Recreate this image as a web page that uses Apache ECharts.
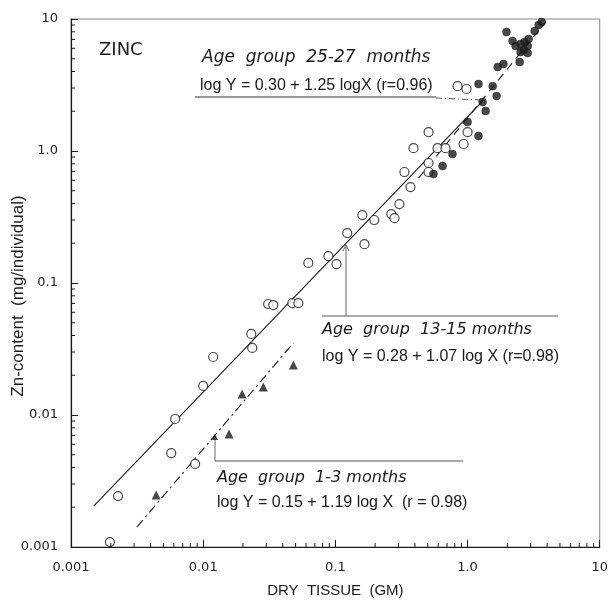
<!DOCTYPE html>
<html>
<head>
<meta charset="utf-8">
<script src="https://cdn.jsdelivr.net/npm/echarts@6/dist/echarts.min.js"></script>
<style>html,body{margin:0;padding:0;background:#fff}#c{width:611px;height:603px}</style>
</head>
<body>
<div id="c"></div>
<script>
// ---- data ----
// Age group 13-15 months (open circles)
const openX = [0.00197,0.00227,0.00573,0.00614,0.00869,0.0100,0.0119,0.0231,0.0235,0.0310,0.0339,0.0472,0.0525,0.0624,0.0885,0.102,0.123,0.166,0.160,0.197,0.265,0.280,0.305,0.333,0.370,0.390,0.507,0.507,0.507,0.593,0.681,0.933,1.00,0.840,0.982];
const openY = [0.00109,0.00243,0.00515,0.00933,0.00426,0.0166,0.0275,0.0411,0.0322,0.0693,0.0680,0.0705,0.0705,0.142,0.160,0.139,0.239,0.197,0.327,0.300,0.333,0.310,0.396,0.693,0.533,1.05,1.39,0.811,0.693,1.05,1.05,1.13,1.39,3.10,2.95];
// Age group 25-27 months (filled circles)
const filledX = [0.552,0.647,0.769,1.00,1.21,1.37,1.30,1.21,1.55,1.66,1.69,1.87,2.48,1.97,2.19,2.31,2.52,2.66,2.85,2.52,2.85,2.70,2.90,3.22,3.45,3.64];
const filledY = [0.670,0.769,0.948,1.66,1.30,2.01,2.35,3.22,3.10,2.61,4.33,4.56,4.72,7.97,6.81,6.24,6.47,5.82,6.24,5.62,5.52,6.70,7.05,8.11,9.01,9.48];
// Age group 1-3 months (filled triangles)
const triX = [0.00441,0.0157,0.0197,0.0285,0.0481];
const triY = [0.00248,0.00718,0.0144,0.0163,0.0239];
// regression lines (end points as drawn)
const fit1315X = [0.00149, 1.30];
const fit1315Y = [0.00205, 2.39];
const fit2527X = [0.426, 3.90];
const fit2527Y = [0.624, 9.50];
const fit13X = [0.00316, 0.0481];
const fit13Y = [0.00142, 0.0351];
// ticks
const majorTicks = [0.001, 0.01, 0.1, 1, 10];
const tickLabels = ['0.001', '0.01', '0.1', '1.0', '10'];
const minorMultipliers = [2,3,4,5,6,7,8,9];
// texts
const titleText = 'ZINC';
const xName = 'DRY  TISSUE  (GM)';
const yName = 'Zn-content  (mg/individual)';
const ann2527 = ['Age  group  25-27  months', 'log Y = 0.30 + 1.25 logX (r=0.96)'];
const ann1315 = ['Age  group  13-15 months', 'log Y = 0.28 + 1.07 log X (r=0.98)'];
const ann13 = ['Age  group  1-3 months', 'log Y = 0.15 + 1.19 log X  (r = 0.98)'];

const zip = (a, b) => a.map((v, i) => [v, b[i]]);
const labelFor = v => {
  for (let i = 0; i < majorTicks.length; i++) {
    if (Math.abs(Math.log10(v) - Math.log10(majorTicks[i])) < 1e-6) return tickLabels[i];
  }
  return '';
};
const minorVals = [];
for (let d = 0; d < majorTicks.length - 1; d++) {
  minorMultipliers.forEach(m => minorVals.push(majorTicks[d] * m));
}
const FONT = '"DejaVu Sans", sans-serif';
const FONT2 = '"Liberation Sans", Arial, sans-serif';
const INK = '#1a1a1a';

const chart = echarts.init(document.getElementById('c'), null, {renderer: 'canvas'});
const txt = (x, y, t, size, italic, font, extra) => Object.assign({
  type: 'text', x: x, y: y, silent: true,
  style: {text: t, fill: INK, fontFamily: font || FONT2, fontSize: size, fontStyle: italic ? 'italic' : 'normal', verticalAlign: 'middle', align: 'left'}
}, extra || {});
const ln = (x1, y1, x2, y2, color, dash) => ({
  type: 'line', silent: true,
  shape: {x1: x1, y1: y1, x2: x2, y2: y2},
  style: {stroke: color || '#333', lineWidth: 1, lineDash: dash || null}
});

const yTitle = txt(18, 296, yName, 17, false, FONT2, {rotation: Math.PI / 2});
yTitle.style.align = 'center';

// minor tick renderer: ticks on bottom (x) or left (y) axis
const tickSeries = (onX) => ({
  type: 'custom', silent: true, clip: false, z: 5,
  data: minorVals,
  renderItem: (params, api) => {
    const v = api.value(0);
    const p = onX ? api.coord([v, majorTicks[0]]) : api.coord([majorTicks[0], v]);
    const shape = onX ? {x1: p[0], y1: p[1], x2: p[0], y2: p[1] - 4} : {x1: p[0], y1: p[1], x2: p[0] + 4, y2: p[1]};
    return {type: 'line', shape: shape, style: {stroke: INK, lineWidth: 1}};
  }
});

chart.setOption({
  animation: false,
  backgroundColor: '#fff',
  grid: {left: 71, right: 11, top: 19, bottom: 56, show: true, borderColor: '#888', borderWidth: 1},
  xAxis: {
    type: 'log', logBase: 10, min: 0.001, max: 10,
    name: xName, nameLocation: 'middle', nameGap: 36,
    nameTextStyle: {color: INK, fontFamily: FONT2, fontSize: 15},
    axisLine: {lineStyle: {color: INK, width: 1.2}},
    axisTick: {inside: true, length: 7, lineStyle: {color: INK}},
    splitLine: {show: false},
    axisLabel: {color: '#222', fontFamily: FONT, fontSize: 13, margin: 14, formatter: labelFor, showMinLabel: true, showMaxLabel: true}
  },
  yAxis: {
    type: 'log', logBase: 10, min: 0.001, max: 10,
    axisLine: {lineStyle: {color: INK, width: 1.2}},
    axisTick: {inside: true, length: 7, lineStyle: {color: INK}},
    splitLine: {show: false},
    axisLabel: {color: '#222', fontFamily: FONT, fontSize: 13, margin: 13, formatter: labelFor, showMinLabel: true, showMaxLabel: true}
  },
  series: [
    tickSeries(true),
    tickSeries(false),
    {name: 'fit 13-15', type: 'line', showSymbol: false, silent: true, data: zip(fit1315X, fit1315Y),
     lineStyle: {color: INK, width: 1.1}},
    {name: 'fit 25-27', type: 'line', showSymbol: false, silent: true, data: zip(fit2527X, fit2527Y),
     lineStyle: {color: INK, width: 1.1, type: [8, 6]}},
    {name: 'fit 1-3', type: 'line', showSymbol: false, silent: true, data: zip(fit13X, fit13Y),
     lineStyle: {color: INK, width: 1.1, type: [9, 4, 2, 4]}},
    {name: '13-15 months', type: 'scatter', symbol: 'circle', symbolSize: 9, data: zip(openX, openY),
     itemStyle: {color: '#fff', borderColor: INK, borderWidth: 1.2}, z: 3},
    {name: '25-27 months', type: 'scatter', symbol: 'circle', symbolSize: 8, data: zip(filledX, filledY),
     itemStyle: {color: INK, borderColor: INK, borderWidth: 0.5}, z: 3},
    {name: '1-3 months', type: 'scatter', symbol: 'triangle', symbolSize: 9, data: zip(triX, triY),
     itemStyle: {color: INK}, z: 3}
  ],
  graphic: [
    txt(99, 50, titleText, 18, false, FONT),
    yTitle,
    txt(202, 58, ann2527[0], 17, true, FONT),
    txt(200, 86, ann2527[1], 16, false, FONT2),
    ln(195, 97, 436, 97, '#333'),
    ln(436, 98, 481, 100, '#555', [6, 3, 1, 3]),
    txt(322, 330, ann1315[0], 16, true, FONT),
    txt(322, 357, ann1315[1], 16, false, FONT2),
    ln(322, 316, 558, 316, '#555'),
    ln(346, 316, 346, 246, '#666'),
    {type: 'polyline', silent: true, shape: {points: [[343, 251], [346, 245], [349, 251]]}, style: {stroke: '#666', fill: null, lineWidth: 1}},
    txt(217, 478, ann13[0], 16, true, FONT),
    txt(217, 503, ann13[1], 16, false, FONT2),
    ln(215, 461, 463, 461, '#555'),
    ln(215, 461, 215, 439, '#666'),
    {type: 'polygon', silent: true, shape: {points: [[212, 440], [215, 434], [218, 440]]}, style: {fill: '#444'}}
  ]
});
</script>
</body>
</html>
